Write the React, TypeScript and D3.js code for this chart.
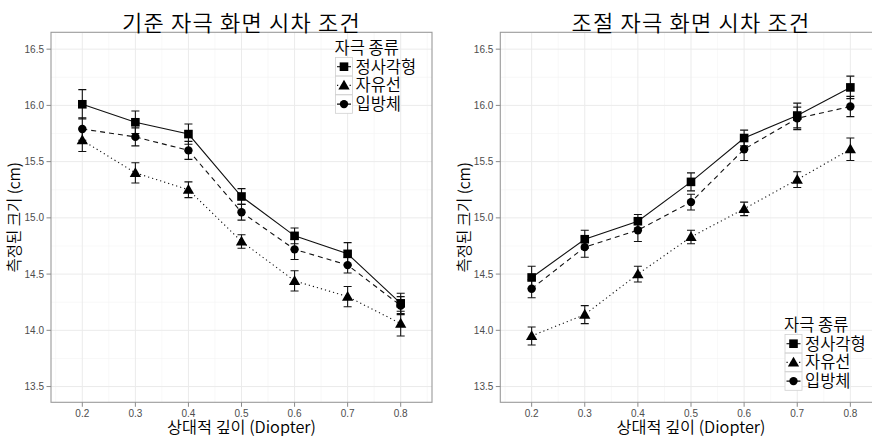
import React from "react";
import * as d3 from "d3";

const depths = [0.2, 0.3, 0.4, 0.5, 0.6, 0.7, 0.8];
const xTicks = [0.2, 0.3, 0.4, 0.5, 0.6, 0.7, 0.8];
const yTicks = [13.5, 14.0, 14.5, 15.0, 15.5, 16.0, 16.5];
const seriesNames = ["정사각형", "자유선", "입방체"];
const panelTitles = ["기준 자극 화면 시차 조건", "조절 자극 화면 시차 조건"];
const xTitle = "상대적 깊이 (Diopter)";
const yTitle = "측정된 크기 (cm)";
const legendTitle = "자극 종류";

// 기준 자극 (left)
const baseSquare = [16.01, 15.85, 15.745, 15.19, 14.84, 14.68, 14.24];
const baseSquareSE = [0.13, 0.1, 0.09, 0.07, 0.07, 0.1, 0.09];
const baseTriangle = [15.69, 15.4, 15.25, 14.79, 14.44, 14.3, 14.06];
const baseTriangleSE = [0.1, 0.09, 0.07, 0.06, 0.09, 0.09, 0.11];
const baseCircle = [15.79, 15.72, 15.6, 15.05, 14.72, 14.58, 14.22];
const baseCircleSE = [0.1, 0.08, 0.08, 0.07, 0.09, 0.07, 0.08];

// 조절 자극 (right)
const accSquare = [14.47, 14.81, 14.97, 15.32, 15.71, 15.91, 16.16];
const accSquareSE = [0.1, 0.08, 0.06, 0.08, 0.07, 0.11, 0.1];
const accTriangle = [13.95, 14.14, 14.5, 14.83, 15.08, 15.34, 15.61];
const accTriangleSE = [0.08, 0.08, 0.07, 0.06, 0.06, 0.07, 0.1];
const accCircle = [14.37, 14.74, 14.89, 15.14, 15.61, 15.885, 15.99];
const accCircleSE = [0.08, 0.09, 0.1, 0.07, 0.1, 0.1, 0.09];

const W = 872;
const H = 436;
const KR = "'Noto Sans CJK KR', 'Noto Sans', sans-serif";
const AR = "'Liberation Sans', Arial, sans-serif";
const KW = 350;

const shapes = ["square", "triangle", "circle"];
const dashes = ["none", "1.2,3", "5,4"];

function Marker({ shape, x, y }: { shape: string; x: number; y: number }) {
  if (shape === "square") return <rect x={x - 4.3} y={y - 4.3} width={8.6} height={8.6} fill="#000" />;
  if (shape === "triangle") {
    const p = d3.symbol(d3.symbolTriangle, 55)();
    return <path d={p as string} transform={`translate(${x},${y + 0.8})`} fill="#000" />;
  }
  return <circle cx={x} cy={y} r={4.2} fill="#000" />;
}

type Panel = {
  title: string;
  x0: number;
  x1: number;
  vals: number[][];
  ses: number[][];
  legendX: number;
  legendY: number;
  yLabelX: number;
};

const panels: Panel[] = [
  {
    title: panelTitles[0],
    x0: 51,
    x1: 432,
    vals: [baseSquare, baseTriangle, baseCircle],
    ses: [baseSquareSE, baseTriangleSE, baseCircleSE],
    legendX: 335.5,
    legendY: 48,
    yLabelX: 15,
  },
  {
    title: panelTitles[1],
    x0: 500.3,
    x1: 881.7,
    vals: [accSquare, accTriangle, accCircle],
    ses: [accSquareSE, accTriangleSE, accCircleSE],
    legendX: 785,
    legendY: 325,
    yLabelX: 464.5,
  },
];

const Y0 = 32.3;
const Y1 = 402.3;

function PanelView({ p, idx }: { p: Panel; idx: number }) {
  const x = d3.scaleLinear().domain([0.141, 0.859]).range([p.x0, p.x1]);
  const y = d3.scaleLinear().domain([13.36, 16.65]).range([Y1, Y0]);
  const minorX = d3.range(0.15, 0.86, 0.1).map((v) => +v.toFixed(2));
  const minorY = d3.range(13.75, 16.6, 0.5);
  const cx = (p.x0 + p.x1) / 2;
  const cy = (Y0 + Y1) / 2;
  const clipId = `clip${idx}`;
  return (
    <g>
      <defs>
        <clipPath id={clipId}>
          <rect x={p.x0} y={Y0} width={p.x1 - p.x0} height={Y1 - Y0} />
        </clipPath>
      </defs>
      <rect x={p.x0} y={Y0} width={p.x1 - p.x0} height={Y1 - Y0} fill="#fff" />
      {minorX.map((v) => (
        <line key={"mx" + v} x1={x(v)} x2={x(v)} y1={Y0} y2={Y1} stroke="#f4f4f4" strokeWidth={0.6} />
      ))}
      {minorY.map((v) => (
        <line key={"my" + v} x1={p.x0} x2={p.x1} y1={y(v)} y2={y(v)} stroke="#f4f4f4" strokeWidth={0.6} />
      ))}
      {xTicks.map((v) => (
        <line key={"gx" + v} x1={x(v)} x2={x(v)} y1={Y0} y2={Y1} stroke="#ebebeb" strokeWidth={1} />
      ))}
      {yTicks.map((v) => (
        <line key={"gy" + v} x1={p.x0} x2={p.x1} y1={y(v)} y2={y(v)} stroke="#ebebeb" strokeWidth={1} />
      ))}
      <g clipPath={`url(#${clipId})`}>
        {[1, 2, 0].map((s) => {
          const line = d3
            .line<number>()
            .x((_, i) => x(depths[i]))
            .y((d) => y(d));
          return (
            <path
              key={"l" + s}
              d={line(p.vals[s]) as string}
              fill="none"
              stroke="#111"
              strokeWidth={1.1}
              strokeDasharray={dashes[s]}
            />
          );
        })}
        {[0, 1, 2].map((s) =>
          p.vals[s].map((v, i) => {
            const xx = x(depths[i]);
            const hi = y(v + p.ses[s][i]);
            const lo = y(v - p.ses[s][i]);
            return (
              <g key={`e${s}-${i}`} stroke="#111" strokeWidth={1.1}>
                <line x1={xx} x2={xx} y1={hi} y2={lo} />
                <line x1={xx - 4} x2={xx + 4} y1={hi} y2={hi} />
                <line x1={xx - 4} x2={xx + 4} y1={lo} y2={lo} />
              </g>
            );
          })
        )}
        {[0, 1, 2].map((s) =>
          p.vals[s].map((v, i) => <Marker key={`m${s}-${i}`} shape={shapes[s]} x={x(depths[i])} y={y(v)} />)
        )}
      </g>
      <rect x={p.x0} y={Y0} width={p.x1 - p.x0} height={Y1 - Y0} fill="none" stroke="#9a9a9a" strokeWidth={1.1} />
      {yTicks.map((v) => (
        <g key={"yt" + v}>
          <line x1={p.x0 - 4.5} x2={p.x0} y1={y(v)} y2={y(v)} stroke="#8a8a8a" strokeWidth={1} />
          <text x={p.x0 - 7} y={y(v)} dy="0.35em" textAnchor="end" fontFamily={AR} fontSize={10} fill="#4d4d4d">
            {d3.format(".1f")(v)}
          </text>
        </g>
      ))}
      {xTicks.map((v) => (
        <g key={"xt" + v}>
          <line x1={x(v)} x2={x(v)} y1={Y1} y2={Y1 + 4.5} stroke="#8a8a8a" strokeWidth={1} />
          <text x={x(v)} y={Y1 + 15} textAnchor="middle" fontFamily={AR} fontSize={10} fill="#4d4d4d">
            {d3.format(".1f")(v)}
          </text>
        </g>
      ))}
      <text
        x={cx}
        y={31}
        textAnchor="middle"
        fontFamily={KR}
        fontWeight={KW}
        fontSize={22}
        letterSpacing={1.2}
        fill="#000"
      >
        {p.title}
      </text>
      <text x={cx} y={432.5} textAnchor="middle" fontFamily={KR} fontWeight={KW} fontSize={16.3} fill="#000">
        {xTitle}
      </text>
      <text
        transform={`translate(${p.yLabelX},${cy}) rotate(-90)`}
        textAnchor="middle"
        dy="0.35em"
        fontFamily={KR}
        fontWeight={KW}
        fontSize={15.5}
        fill="#000"
      >
        {yTitle}
      </text>
      <g>
        <text x={p.legendX - 1} y={p.legendY} dy="0.36em" fontFamily={KR} fontWeight={KW} fontSize={16.5} fill="#000">
          {legendTitle}
        </text>
        {seriesNames.map((name, s) => {
          const ky = p.legendY + 18.7 * (s + 1);
          const kx = p.legendX;
          return (
            <g key={"lg" + s}>
              <rect x={kx} y={ky - 9.2} width={17} height={18.4} fill="#fff" stroke="#d0d0d0" strokeWidth={0.8} />
              <line
                x1={kx + 1.5}
                x2={kx + 15.5}
                y1={ky}
                y2={ky}
                stroke="#111"
                strokeWidth={1.1}
                strokeDasharray={dashes[s]}
              />
              <Marker shape={shapes[s]} x={kx + 8.5} y={ky} />
              <text x={kx + 20} y={ky} dy="0.36em" fontFamily={KR} fontWeight={KW} fontSize={16.5} fill="#000">
                {name}
              </text>
            </g>
          );
        })}
      </g>
    </g>
  );
}

export default function App() {
  return (
    <svg
      width={W}
      height={H}
      viewBox={`0 0 ${W} ${H}`}
      style={{ position: "absolute", left: 0, top: 0, background: "#fff" }}
    >
      <rect width={W} height={H} fill="#fff" />
      {panels.map((p, i) => (
        <PanelView key={i} p={p} idx={i} />
      ))}
    </svg>
  );
}
